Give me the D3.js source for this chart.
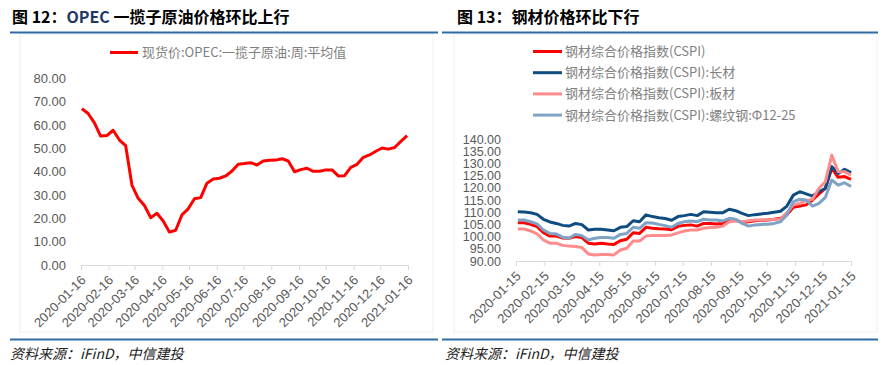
<!DOCTYPE html>
<html>
<head>
<meta charset="utf-8">
<script src="https://cdn.jsdelivr.net/npm/d3@7"></script>
<style>
  body { margin: 0; background: #fff; }
</style>
</head>
<body>
<script>
// weekly (Friday) observations, 2020-01-17 .. 2021-01-15
var weeks = d3.timeFriday.range(new Date(2020, 0, 17), new Date(2021, 0, 16));

var oilPrice = [67.0, 65.0, 61.0, 55.3, 55.5, 57.8, 53.6, 51.2, 34.3, 28.6, 25.5, 20.3, 22.2, 18.9,
  14.1, 14.9, 21.5, 24.1, 28.4, 28.9, 35.1, 36.9, 37.2, 38.2, 40.3, 43.2, 43.5, 43.9, 42.9, 44.6,
  44.9, 45.0, 45.6, 44.6, 40.0, 40.9, 41.5, 40.2, 40.2, 40.8, 40.8, 38.2, 38.3, 41.9, 43.2, 46.2,
  47.2, 48.8, 50.2, 49.7, 50.4, 53.0, 55.5];

var cspi = [105.7, 105.7, 105.0, 104.1, 101.6, 100.2, 100.2, 99.4, 99.3, 100.0, 99.6, 97.3, 97.0,
  97.3, 97.0, 96.8, 98.3, 98.9, 101.6, 101.3, 103.8, 103.4, 103.2, 103.1, 102.8, 104.2, 104.6,
  104.8, 104.3, 105.4, 105.4, 105.2, 105.4, 106.8, 106.8, 105.8, 106.1, 106.5, 106.7, 106.8, 107.1,
  107.5, 108.9, 112.0, 112.5, 113.0, 115.0, 117.5, 119.8, 128.0, 124.3, 124.6, 123.5];

var cspiLong = [110.2, 110.1, 109.8, 109.1, 107.1, 106.0, 105.4, 104.6, 104.3, 105.4, 104.9, 102.7,
  103.0, 103.0, 102.7, 102.4, 103.8, 104.1, 106.5, 106.1, 108.9, 108.2, 107.7, 107.4, 106.7, 108.2,
  108.6, 109.1, 108.6, 110.2, 110.0, 109.8, 109.8, 111.2, 110.6, 109.5, 108.6, 109.0, 109.3, 109.6,
  110.0, 110.4, 112.5, 117.0, 118.4, 117.5, 116.6, 118.4, 119.8, 128.7, 125.9, 127.6, 126.2];

var cspiPlate = [103.1, 103.1, 102.3, 101.1, 98.6, 97.3, 97.3, 96.4, 96.1, 95.9, 95.5, 92.9, 92.5,
  92.7, 92.7, 92.5, 94.5, 95.2, 98.2, 98.2, 100.2, 100.5, 100.5, 100.5, 100.7, 101.5, 102.3, 102.7,
  102.7, 103.4, 103.7, 103.8, 104.3, 106.1, 106.4, 106.1, 106.5, 106.8, 106.8, 106.8, 107.1, 107.2,
  109.8, 113.0, 113.6, 114.7, 115.3, 119.8, 122.5, 133.4, 126.6, 126.6, 125.2];

var cspiRebar = [106.8, 106.8, 106.1, 105.2, 102.7, 101.3, 101.1, 99.7, 99.3, 100.9, 100.4, 98.6,
  99.3, 99.6, 99.6, 99.3, 100.9, 101.3, 103.8, 103.4, 105.7, 105.6, 105.0, 104.5, 103.8, 105.4,
  106.1, 106.4, 106.1, 107.1, 106.8, 106.8, 106.4, 107.5, 107.1, 105.4, 104.3, 104.8, 105.0, 105.1,
  105.4, 106.1, 108.9, 114.3, 115.3, 115.0, 112.5, 113.6, 116.1, 123.2, 121.1, 122.1, 120.5];

var oilTicks = ["2020-01-16", "2020-02-16", "2020-03-16", "2020-04-16", "2020-05-16", "2020-06-16",
  "2020-07-16", "2020-08-16", "2020-09-16", "2020-10-16", "2020-11-16", "2020-12-16", "2021-01-16"];
var steelTicks = ["2020-01-15", "2020-02-15", "2020-03-15", "2020-04-15", "2020-05-15", "2020-06-15",
  "2020-07-15", "2020-08-15", "2020-09-15", "2020-10-15", "2020-11-15", "2020-12-15", "2021-01-15"];
var oilYTicks = [0, 10, 20, 30, 40, 50, 60, 70, 80];
var steelYTicks = [90, 95, 100, 105, 110, 115, 120, 125, 130, 135, 140];

var oilName = "现货价:OPEC:一揽子原油:周:平均值";
var steelNames = ["钢材综合价格指数(CSPI)", "钢材综合价格指数(CSPI):长材",
  "钢材综合价格指数(CSPI):板材", "钢材综合价格指数(CSPI):螺纹钢:Φ12-25"];
var steelColors = ["#ff0000", "#0f4c81", "#ff8c8c", "#7ea3c4"];

var parseDate = d3.timeParse("%Y-%m-%d");
var cjk = "'Noto Sans CJK SC', sans-serif";
var latin = "'Liberation Sans', Arial, sans-serif";

var svg = d3.select("body")
  .append("svg")
  .attr("width", 885)
  .attr("height", 365);

// frames, title rules, sources
[[20, 433], [454, 877]].forEach(function(f) {
  svg.append("rect")
    .attr("x", f[0]).attr("y", 34)
    .attr("width", f[1] - f[0]).attr("height", 298)
    .attr("fill", "none")
    .attr("stroke", "#efefef");
});

svg.append("line").attr("x1", 10).attr("x2", 438).attr("y1", 32.5).attr("y2", 32.5)
  .attr("stroke", "#2f6ca5").attr("stroke-width", 2);
svg.append("line").attr("x1", 442).attr("x2", 878).attr("y1", 32.5).attr("y2", 32.5)
  .attr("stroke", "#2f6ca5").attr("stroke-width", 2);
svg.append("line").attr("x1", 10).attr("x2", 438).attr("y1", 339.5).attr("y2", 339.5)
  .attr("stroke", "#2f6ca5").attr("stroke-width", 2);
svg.append("line").attr("x1", 442).attr("x2", 878).attr("y1", 339.5).attr("y2", 339.5)
  .attr("stroke", "#2f6ca5").attr("stroke-width", 2);

var t1 = svg.append("text")
  .attr("x", 12).attr("y", 23)
  .style("font-family", cjk).style("font-size", "16px").style("font-weight", 700);
t1.append("tspan").text("图 12：");
t1.append("tspan").attr("fill", "#1f3864").text("OPEC");
t1.append("tspan").text(" 一揽子原油价格环比上行");

svg.append("text")
  .attr("x", 457).attr("y", 23)
  .style("font-family", cjk).style("font-size", "16px").style("font-weight", 700)
  .text("图 13：钢材价格环比下行");

[10, 445].forEach(function(x) {
  svg.append("text")
    .attr("x", x).attr("y", 359)
    .style("font-family", cjk).style("font-size", "14px").style("font-style", "italic")
    .attr("fill", "#222")
    .text("资料来源：iFinD，中信建投");
});

function drawAxes(xScale, yScale, xTicks, yTicks, ySize) {
  var xAxis = d3.axisBottom(xScale)
    .tickValues(xTicks.map(parseDate))
    .tickFormat(d3.timeFormat("%Y-%m-%d"))
    .tickSize(5)
    .tickSizeOuter(0);
  var gx = svg.append("g")
    .attr("transform", `translate(0, ${yScale.range()[0]})`)
    .call(xAxis);
  gx.select(".domain").attr("stroke", "#d9d9d9");
  gx.selectAll(".tick line").attr("stroke", "#d9d9d9");
  gx.selectAll(".tick text")
    .attr("x", 0).attr("y", 0).attr("dy", 0)
    .attr("transform", "translate(5, 16) rotate(-45)")
    .style("text-anchor", "end")
    .style("font-family", latin).style("font-size", "13px")
    .attr("fill", "#595959");

  var yAxis = d3.axisLeft(yScale)
    .tickValues(yTicks)
    .tickFormat(d3.format(".2f"))
    .tickSize(0)
    .tickPadding(15);
  var gy = svg.append("g")
    .attr("transform", `translate(${xScale.range()[0]}, 0)`)
    .call(yAxis);
  gy.select(".domain").remove();
  gy.selectAll(".tick text")
    .style("font-family", latin).style("font-size", ySize)
    .attr("fill", "#595959");
}

// ---- chart 12: OPEC basket ----
var xOil = d3.scaleTime().domain([parseDate(oilTicks[0]), parseDate(oilTicks[12])]).range([81, 408]);
var yOil = d3.scaleLinear().domain([0, 80]).range([265, 78.5]);
drawAxes(xOil, yOil, oilTicks, oilYTicks, "13px");

var oilLine = d3.line()
  .x(function(d, i) { return xOil(weeks[i]); })
  .y(function(d) { return yOil(d); });

svg.append("path")
  .datum(oilPrice)
  .attr("d", oilLine)
  .attr("fill", "none")
  .attr("stroke", "#ff0000")
  .attr("stroke-width", 3)
  .attr("stroke-linejoin", "round");

svg.append("line").attr("x1", 110).attr("x2", 138).attr("y1", 52.5).attr("y2", 52.5)
  .attr("stroke", "#ff0000").attr("stroke-width", 3);
svg.append("text")
  .attr("x", 142).attr("y", 57)
  .style("font-family", cjk).style("font-size", "13px")
  .attr("fill", "#7f7f7f")
  .text(oilName);

// ---- chart 13: steel price index ----
var xSteel = d3.scaleTime().domain([parseDate(steelTicks[0]), parseDate(steelTicks[12])]).range([516, 851]);
var ySteel = d3.scaleLinear().domain([90, 140]).range([261, 139]);
drawAxes(xSteel, ySteel, steelTicks, steelYTicks, "12.5px");

var steelLine = d3.line()
  .x(function(d, i) { return xSteel(weeks[i]); })
  .y(function(d) { return ySteel(d); });

[cspi, cspiLong, cspiPlate, cspiRebar].forEach(function(series, k) {
  svg.append("path")
    .datum(series)
    .attr("d", steelLine)
    .attr("fill", "none")
    .attr("stroke", steelColors[k])
    .attr("stroke-width", 3)
    .attr("stroke-linejoin", "round");
});

var legend = svg.selectAll(".steel-legend")
  .data(steelNames)
  .enter()
  .append("g")
  .attr("transform", function(d, i) { return `translate(533, ${51.5 + i * 21.2})`; });
legend.append("line")
  .attr("x1", 0).attr("x2", 29)
  .attr("stroke", function(d, i) { return steelColors[i]; })
  .attr("stroke-width", 3);
legend.append("text")
  .attr("x", 32).attr("y", 4.5)
  .style("font-family", cjk).style("font-size", "13px")
  .attr("fill", "#7f7f7f")
  .text(function(d) { return d; });
</script>
</body>
</html>
